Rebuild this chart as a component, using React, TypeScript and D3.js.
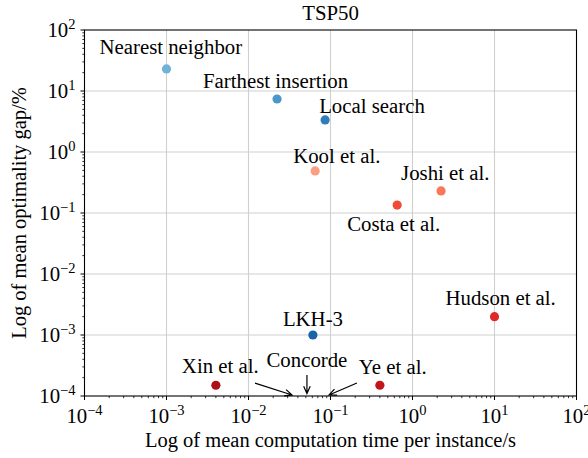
import * as d3 from 'd3'

// TSP50: mean computation time vs. mean optimality gap
const methods = [
  'Nearest neighbor',
  'Farthest insertion',
  'Local search',
  'LKH-3',
  'Kool et al.',
  'Joshi et al.',
  'Costa et al.',
  'Hudson et al.',
  'Xin et al.',
  'Ye et al.',
]
const times = [0.001, 0.0223, 0.086, 0.061, 0.065, 2.23, 0.65, 10, 0.004, 0.4]
const gaps = [23, 7.4, 3.35, 0.001, 0.49, 0.23, 0.135, 0.002, 0.00015, 0.00015]
const colors = [
  '#73b2d8',
  '#4a98c9',
  '#2f7ebc',
  '#1764ab',
  '#fc9f81',
  '#fb7757',
  '#f24a35',
  '#e0282a',
  '#ac1117',
  '#c3161b',
]

// Concorde annotation: arrows in data coordinates
const concordeLabel = 'Concorde'
const arrowFrom = [
  [0.012, 1.63e-4],
  [0.0516, 2.2e-4],
  [0.21, 1.63e-4],
]
const arrowTo = [
  [0.034, 1.04e-4],
  [0.0516, 1.1e-4],
  [0.096, 1.04e-4],
]

const decades = [-4, -3, -2, -1, 0, 1, 2]

// label placement relative to each point (px)
const labelOffsets: [number, number][] = [
  [-67, -15],
  [-74, -11],
  [-6, -7],
  [-30, -9],
  [-22, -8],
  [-40, -11],
  [-50, 26],
  [-49, -12],
  [-34, -12],
  [-21, -11],
]

const W = 588
const H = 458
const margin = { left: 84.5, right: 11.5, top: 30, bottom: 62 }
const fs = 20.8

function Pow({ e, x, y, anchor }: { e: number; x: number; y: number; anchor: string }) {
  return (
    <text x={x} y={y} textAnchor={anchor} fontSize={fs} style={{ fontFamily: '"Liberation Serif"' }} fill="#000">
      10
      <tspan fontSize={14.5} dy={-8.5}>
        {e < 0 ? '\u2212' + Math.abs(e) : String(e)}
      </tspan>
    </text>
  )
}

function arrowPath(x1: number, y1: number, x2: number, y2: number) {
  const a = Math.atan2(y2 - y1, x2 - x1)
  const len = 8
  const spread = 0.42
  const hx1 = x2 - len * Math.cos(a - spread)
  const hy1 = y2 - len * Math.sin(a - spread)
  const hx2 = x2 - len * Math.cos(a + spread)
  const hy2 = y2 - len * Math.sin(a + spread)
  return `M${x1},${y1}L${x2},${y2}M${hx1},${hy1}L${x2},${y2}L${hx2},${hy2}`
}

export default function App() {
  const x = d3.scaleLog().domain([1e-4, 1e2]).range([margin.left, W - margin.right])
  const y = d3.scaleLog().domain([1e-4, 1e2]).range([H - margin.bottom, margin.top])
  const [x0, x1] = x.range()
  const [y0, y1] = y.range()

  const majors = decades.map((d) => Math.pow(10, d))
  const minors: number[] = []
  decades.slice(0, -1).forEach((d) => {
    for (let k = 2; k <= 9; k++) minors.push(k * Math.pow(10, d))
  })

  return (
    <svg
      width={W}
      height={H}
      style={{ position: 'absolute', left: 0, top: 0, background: '#fff', fontFamily: '"Liberation Serif"' }}
    >
      {/* grid */}
      <g stroke="#cfcfcf" strokeWidth={1.1}>
        {majors.slice(1, -1).map((v) => (
          <line key={'gx' + v} x1={x(v)} x2={x(v)} y1={y1} y2={y0} />
        ))}
        {majors.slice(1, -1).map((v) => (
          <line key={'gy' + v} x1={x0} x2={x1} y1={y(v)} y2={y(v)} />
        ))}
      </g>

      {/* ticks */}
      <g stroke="#000" strokeWidth={1}>
        {majors.map((v) => (
          <line key={'tx' + v} x1={x(v)} x2={x(v)} y1={y0} y2={y0 + 4} />
        ))}
        {minors.map((v) => (
          <line key={'mx' + v} x1={x(v)} x2={x(v)} y1={y0} y2={y0 + 2.2} strokeWidth={0.8} />
        ))}
        {majors.map((v) => (
          <line key={'ty' + v} x1={x0} x2={x0 - 4} y1={y(v)} y2={y(v)} />
        ))}
        {minors.map((v) => (
          <line key={'my' + v} x1={x0} x2={x0 - 2.2} y1={y(v)} y2={y(v)} strokeWidth={0.8} />
        ))}
      </g>

      {/* tick labels */}
      {decades.map((d) => (
        <Pow key={'lx' + d} e={d} x={x(Math.pow(10, d))} y={y0 + 27} anchor="middle" />
      ))}
      {decades.map((d) => (
        <Pow key={'ly' + d} e={d} x={x0 - 9} y={y(Math.pow(10, d)) + 7} anchor="end" />
      ))}

      {/* frame */}
      <rect x={x0} y={y1} width={x1 - x0} height={y0 - y1} fill="none" stroke="#000" strokeWidth={1.1} />

      {/* points and labels */}
      {methods.map((m, i) => (
        <g key={m}>
          <circle cx={x(times[i])} cy={y(gaps[i])} r={4.6} fill={colors[i]} />
          <text
            x={x(times[i]) + labelOffsets[i][0]}
            y={y(gaps[i]) + labelOffsets[i][1]}
            fontSize={fs}
            style={{ fontFamily: '"Liberation Serif"' }}
            fill="#000"
          >
            {m}
          </text>
        </g>
      ))}

      {/* Concorde annotation */}
      <text x={x(0.0516)} y={367} textAnchor="middle" fontSize={fs} style={{ fontFamily: '"Liberation Serif"' }} fill="#000">
        {concordeLabel}
      </text>
      {arrowFrom.map((f, i) => (
        <path
          key={'ar' + i}
          d={arrowPath(x(f[0]), y(f[1]), x(arrowTo[i][0]), y(arrowTo[i][1]))}
          fill="none"
          stroke="#000"
          strokeWidth={1.2}
        />
      ))}

      {/* titles */}
      <text x={(x0 + x1) / 2} y={20} textAnchor="middle" fontSize={fs} style={{ fontFamily: '"Liberation Serif"' }} fill="#000">
        TSP50
      </text>
      <text x={(x0 + x1) / 2} y={447} textAnchor="middle" fontSize={20.5} style={{ fontFamily: '"Liberation Serif"' }} fill="#000">
        Log of mean computation time per instance/s
      </text>
      <text
        transform={`translate(26,${(y0 + y1) / 2}) rotate(-90)`}
        textAnchor="middle"
        fontSize={20.5}
        style={{ fontFamily: '"Liberation Serif"' }}
        fill="#000"
      >
        Log of mean optimality gap/%
      </text>
    </svg>
  )
}
